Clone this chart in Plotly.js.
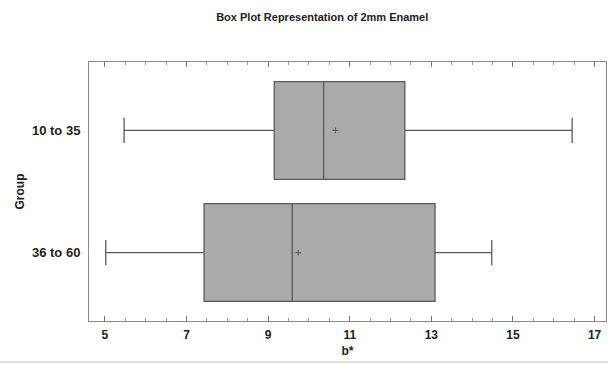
<!DOCTYPE html>
<html>
<head>
<meta charset="utf-8">
<script src="https://cdn.plot.ly/plotly-3.0.1.min.js"></script>
<style>
  html, body { margin: 0; padding: 0; background: #fff; }
  #chart { width: 608px; height: 365px; }
</style>
</head>
<body>
<div id="chart"></div>
<script>
// Age groups and the b* summary statistics for each
const groups = ['10 to 35', '36 to 60'];
const lowerWhisker = [5.47, 5.02];
const q1Values = [9.15, 7.43];
const medianValues = [10.36, 9.59];
const meanValues = [10.65, 9.74];
const q3Values = [12.35, 13.09];
const upperWhisker = [16.45, 14.48];
const xTicks = [5, 7, 9, 11, 13, 15, 17];

const font = 'Liberation Sans, Arial, sans-serif';

const boxTrace = {
  type: 'box',
  orientation: 'h',
  y: groups,
  lowerfence: lowerWhisker,
  q1: q1Values,
  median: medianValues,
  q3: q3Values,
  upperfence: upperWhisker,
  width: 0.8,
  whiskerwidth: 0.26,
  boxpoints: false,
  fillcolor: '#aaaaaa',
  line: { color: '#5a5a5a', width: 1.3 },
  hoverinfo: 'skip',
  showlegend: false
};

const meanTrace = {
  type: 'scatter',
  mode: 'markers',
  x: meanValues,
  y: groups,
  marker: { symbol: 'cross-thin', size: 4, color: '#666', line: { color: '#666', width: 1.2 } },
  hoverinfo: 'skip',
  showlegend: false
};

const layout = {
  width: 608,
  height: 365,
  margin: { l: 89, r: 2, t: 62, b: 44 },
  paper_bgcolor: '#fff',
  plot_bgcolor: '#fff',
  title: {
    text: '<b>Box Plot Representation of 2mm Enamel</b>',
    font: { family: font, size: 11, color: '#222' },
    x: 0.53, xanchor: 'center', y: 0.953, yanchor: 'middle'
  },
  xaxis: {
    range: [4.61, 17.28],
    tickvals: xTicks,
    ticktext: xTicks.map(v => '<b>' + v + '</b>'),
    ticks: 'inside',
    ticklen: 5,
    tickcolor: '#777',
    minor: { dtick: 0.5, ticks: 'inside', ticklen: 3, tickcolor: '#999' },
    showline: true,
    linecolor: '#888',
    linewidth: 1,
    mirror: 'ticks',
    showgrid: false,
    zeroline: false,
    ticklabelstandoff: 3,
    tickfont: { family: font, size: 12, color: '#222' },
    title: { text: '<b>b*</b>', font: { family: font, size: 12, color: '#222' }, standoff: 5 }
  },
  yaxis: {
    type: 'category',
    categoryorder: 'array',
    categoryarray: groups,
    range: [1.56, -0.56],
    tickvals: groups,
    ticktext: groups.map(g => '<b>' + g + '</b>'),
    ticks: '',
    showline: true,
    linecolor: '#888',
    linewidth: 1,
    mirror: true,
    showgrid: false,
    zeroline: false,
    ticklabelstandoff: 5,
    tickfont: { family: font, size: 13, color: '#222' },
    title: { text: '<b>Group</b>', font: { family: font, size: 12, color: '#222' }, standoff: 4 }
  },
  shapes: [
    { type: 'line', xref: 'paper', yref: 'paper', x0: -0.2, x1: 1.01, y0: -0.158, y1: -0.158,
      line: { color: '#dddddd', width: 2 } }
  ]
};

Plotly.newPlot('chart', [boxTrace, meanTrace], layout, { displayModeBar: false, staticPlot: true });
</script>
</body>
</html>
